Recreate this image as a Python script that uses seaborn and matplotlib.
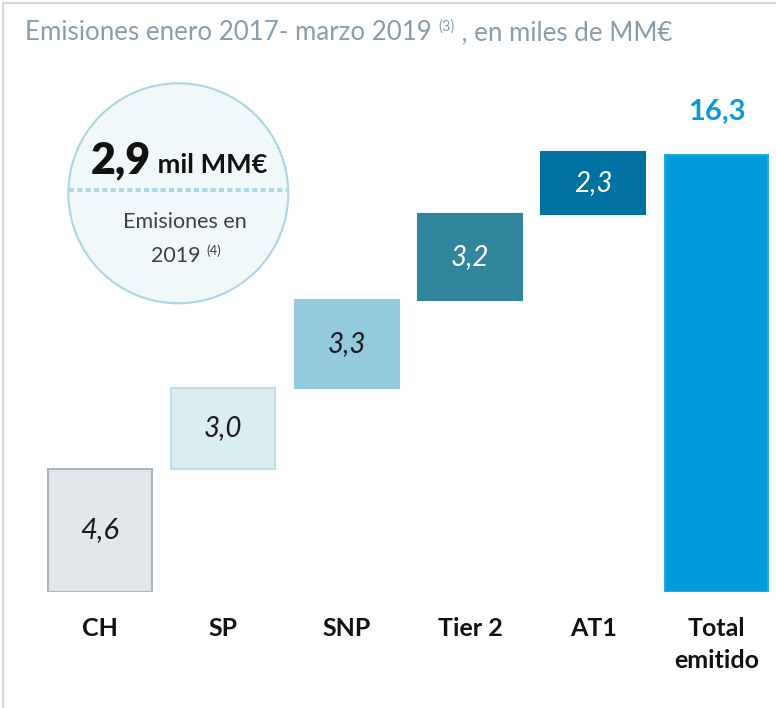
import matplotlib
matplotlib.use("Agg")
import matplotlib.pyplot as plt
from matplotlib.patches import Circle
from matplotlib.lines import Line2D
import seaborn as sns
import pandas as pd
import numpy as np

# Issuance by instrument, Jan 2017 - Mar 2019 (thousands of MM€)
categories = ["CH", "SP", "SNP", "Tier 2", "AT1", "Total\nemitido"]
steps = [4.6, 3.0, 3.3, 3.2, 2.3]
total = 16.3
issued_2019 = 2.9

values = steps + [total]
bottoms = list(np.concatenate([[0], np.cumsum(steps)[:-1]])) + [0]

face_colors = ["#e2e7ea", "#daedf3", "#93cbdd", "#31869b", "#0072a1", "#009bd9"]
edge_colors = ["#aab6be", "#bcdfe9", "#93cbdd", "#31869b", "#0072a1", "#26a9e0"]
label_colors = ["#1a1a1a", "#1a1a1a", "#1a1a1a", "#ffffff", "#ffffff"]

sns.set_theme(style="white")
plt.rcParams["font.family"] = ["Lato", "DejaVu Sans"]

W, H = 776, 708
fig = plt.figure(figsize=(W / 100, H / 100), dpi=100)
fig.patch.set_facecolor("white")

step_px = 123.3
ax = fig.add_axes([(100 - step_px / 2) / W, (H - 592) / H, 6 * step_px / W, 536 / H])

df = pd.DataFrame({"categoria": categories, "valor": values})
sns.barplot(data=df, x="categoria", y="valor", order=categories, bottom=bottoms,
            width=0.843, color=face_colors[0], saturation=1, ax=ax, linewidth=1.5)

for patch, fc, ec in zip(ax.patches, face_colors, edge_colors):
    patch.set_facecolor(fc)
    patch.set_edgecolor(ec)

ax.set_xlim(-0.5, 5.5)
ax.set_ylim(0, 20)
ax.set_xlabel("")
ax.set_ylabel("")
ax.set_yticks([])
ax.set_xticks([])
for s in ax.spines.values():
    s.set_visible(False)
ax.patch.set_alpha(0)

def fmt(v):
    return f"{v:.1f}".replace(".", ",")

# value labels inside the step bars
for i, (v, b) in enumerate(zip(steps, bottoms)):
    ax.text(i, b + v / 2, fmt(v), ha="center", va="center", style="italic",
            fontsize=21 if i == 0 else 20, color=label_colors[i])

# total label above the last bar
ax.text(5, total + 1.6, fmt(total), ha="center", va="center", fontweight="bold",
        fontsize=21, color="#0b9ad6")

# category labels under the bars
for i, c in enumerate(categories):
    ax.text(i, -0.95, c, ha="center", va="top", fontweight="bold", fontsize=18,
            color="#111111", linespacing=1.45)

# frame lines on the left and top
fig.add_artist(Line2D([2.5 / W, 2.5 / W], [0, 1 - 2.5 / H], color="#d9d9d9", lw=1.6))
fig.add_artist(Line2D([2.5 / W, 1], [1 - 2.5 / H, 1 - 2.5 / H], color="#d9d9d9", lw=1.6))

# title with superscript reference
renderer = fig.canvas.get_renderer()
title_color = "#8a9dad"
x0, y0 = 25 / W, 1 - 40 / H
parts = [("Emisiones enero 2017- marzo 2019 ", 18.6, 0), ("(3)", 10.5, 9 / H), (" , en miles de MM€", 18.6, 0)]
x = x0
for txt, fs, dy in parts:
    t = fig.text(x, y0 + dy, txt, fontsize=fs, color=title_color, ha="left", va="baseline")
    bb = t.get_window_extent(renderer=renderer)
    x = bb.x1 / W

# circle highlighting 2019 issuance
cx, cy, r = 178.3, 193.3, 110
circ = Circle((cx / 100, (H - cy) / 100), r / 100, transform=fig.dpi_scale_trans,
              facecolor="#f1f8fa", edgecolor="#a9d7e3", lw=1.5, zorder=3)
fig.add_artist(circ)
fig.add_artist(Line2D([(cx - r + 1) / W, (cx + r - 1) / W], [1 - 189.5 / H, 1 - 189.5 / H],
                      color="#acd9e5", lw=3, linestyle=(0, (1.2, 0.8)),
                      solid_capstyle="butt", dash_capstyle="butt", zorder=4))

big = fig.text(0, 1 - 173 / H, fmt(issued_2019), fontsize=31, fontweight="heavy",
               color="#111111", ha="left", va="baseline", zorder=5)
small = fig.text(0, 1 - 173 / H, " mil MM€", fontsize=19.5, fontweight="bold",
                 color="#111111", ha="left", va="baseline", zorder=5)
wb = big.get_window_extent(renderer=renderer).width
ws = small.get_window_extent(renderer=renderer).width
start = cx + 1 - (wb + ws) / 2
big.set_x(start / W)
small.set_x((start + wb) / W)

fig.text(cx / W + 7 / W, 1 - 228 / H, "Emisiones en", fontsize=15.5, color="#404040",
         ha="center", va="baseline", zorder=5)
yr = fig.text(0, 1 - 262 / H, "2019 ", fontsize=15.5, color="#404040", ha="left",
              va="baseline", zorder=5)
sup = fig.text(0, 1 - 255 / H, "(4)", fontsize=9.5, color="#404040", ha="left",
               va="baseline", zorder=5)
wy = yr.get_window_extent(renderer=renderer).width
wsup = sup.get_window_extent(renderer=renderer).width
s2 = cx + 8 - (wy + wsup) / 2
yr.set_x(s2 / W)
sup.set_x((s2 + wy) / W)

fig.savefig("out.png", dpi=100, facecolor="white")
